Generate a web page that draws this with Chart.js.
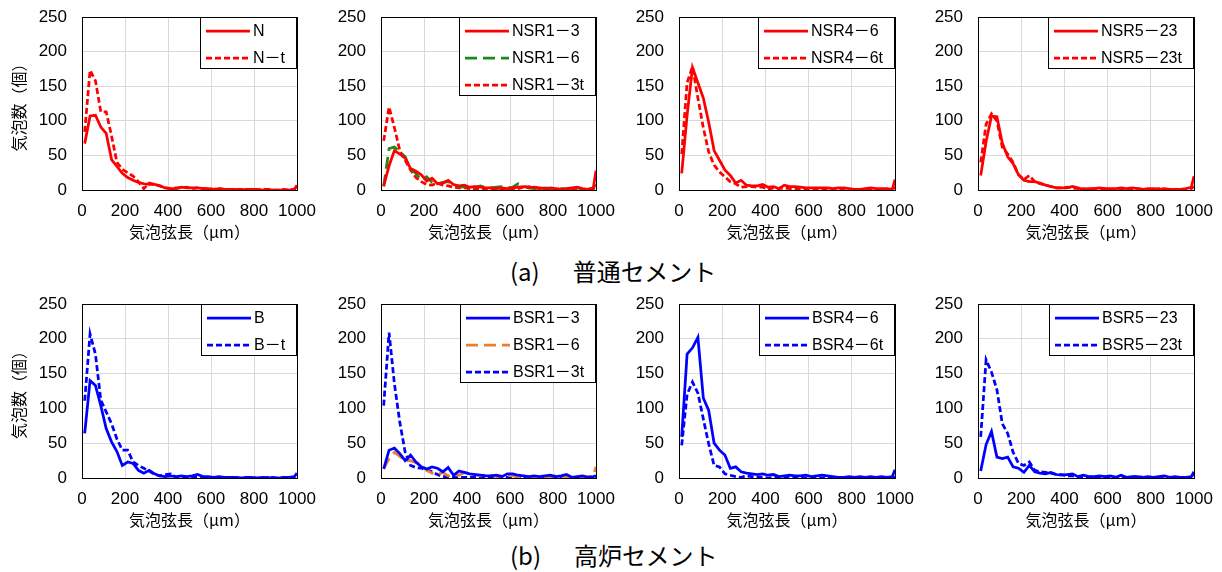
<!DOCTYPE html>
<html>
<head>
<meta charset="utf-8">
<script src="https://cdn.jsdelivr.net/npm/chart.js@4.4.0/dist/chart.umd.min.js"></script>
<style>
  html, body { margin: 0; padding: 0; background: #fff; }
  #wrap { position: relative; width: 1222px; height: 572px; overflow: hidden; background: #fff; }
  .panel { position: absolute; }
  .cap { position: absolute; left: 510px; font: 24px "Noto Sans CJK JP"; line-height: 24px; color: #000; white-space: nowrap; }
</style>
</head>
<body>
<div id="wrap">
  <div class="cap" style="top:259px">(a)<span style="margin-left:33px">普通セメント</span></div>
  <div class="cap" style="top:543px">(b)<span style="margin-left:33px">高炉セメント</span></div>
</div>
<script>
// bin centres (µm), last point = >1000
const xs = [12.5, 37.5, 62.5, 87.5, 112.5, 137.5, 162.5, 187.5, 212.5, 237.5, 262.5, 287.5, 312.5, 337.5,
  362.5, 387.5, 412.5, 437.5, 462.5, 487.5, 512.5, 537.5, 562.5, 587.5, 612.5, 637.5, 662.5, 687.5,
  712.5, 737.5, 762.5, 787.5, 812.5, 837.5, 862.5, 887.5, 912.5, 937.5, 962.5, 987.5, 1000];
const xTicks = [0, 200, 400, 600, 800, 1000];
const yTicks = [0, 50, 100, 150, 200, 250];

// 普通セメント
const N = [67,107,108,91,82,44,34,24,18,14,11,9,8,8,6,3,2,2,4,3,3,3,2,2,1,2,1,1,1,0,1,1,1,0,1,0,0,0,0,1,7];
const Nt = [84,173,158,113,113,78,40,30,25,20,12,2,10,8,6,3,2,3,3,4,2,3,2,2,1,2,1,1,1,1,1,1,0,1,1,0,0,1,0,1,5];
const NSR1_3 = [6,35,57,52,46,31,27,22,13,17,9,10,14,8,6,7,4,5,4,3,3,2,3,2,3,4,5,3,4,3,2,3,2,1,2,3,4,2,1,3,28];
const NSR1_6 = [5,60,62,55,48,30,24,14,19,11,9,11,12,8,5,4,5,4,6,3,3,4,5,3,4,9,6,3,2,2,3,2,1,2,1,2,3,1,1,2,8];
const NSR1_3t = [71,120,90,57,43,29,18,12,8,7,10,7,6,4,3,3,2,2,1,2,1,2,1,1,1,2,4,5,3,2,2,1,1,2,1,1,2,1,1,2,3];
const NSR4_6 = [24,108,177,155,133,98,57,43,29,21,10,14,7,6,6,8,4,5,2,7,5,5,4,3,3,3,3,3,2,3,3,2,1,1,2,3,2,2,2,1,15];
const NSR4_6t = [52,155,178,133,90,55,36,26,19,12,9,4,5,5,4,4,1,3,2,3,2,2,1,2,1,1,2,1,1,1,2,1,1,0,1,1,1,1,1,1,4];
const NSR5_23 = [21,70,107,106,68,48,38,22,14,12,12,10,7,5,3,3,3,5,3,1,2,2,3,2,2,2,3,2,3,2,1,2,2,1,2,1,1,1,2,4,20];
const NSR5_23t = [40,95,110,100,62,52,40,22,15,21,12,9,7,5,3,3,4,3,2,2,1,2,1,2,1,1,2,1,1,2,1,1,1,2,1,1,1,1,1,2,5];

// 高炉セメント
const B = [64,140,133,104,71,52,38,18,23,21,11,7,11,6,3,2,3,2,3,2,3,5,2,2,1,2,1,1,1,0,1,1,0,1,0,1,0,1,1,2,7];
const Bt = [111,207,178,112,95,78,56,40,40,23,18,14,10,5,3,5,6,1,1,1,1,1,0,1,1,0,1,0,1,0,0,1,0,0,1,0,0,0,1,0,1];
const BSR1_3 = [13,40,43,35,25,33,23,16,13,16,14,9,15,4,10,8,6,5,4,3,3,4,2,6,6,4,3,2,3,2,3,4,2,3,5,1,2,3,1,2,3];
const BSR1_6 = [13,28,37,31,25,25,22,20,11,7,5,8,3,5,4,8,6,5,3,5,4,2,3,4,3,2,2,1,2,1,2,2,3,1,2,1,1,2,2,3,16];
const BSR1_3t = [104,209,135,80,37,18,15,14,12,9,5,2,2,1,1,1,1,1,0,1,1,0,1,1,0,1,0,1,1,0,1,1,0,1,1,0,1,1,0,1,2];
const BSR4_6 = [59,178,187,202,115,97,50,40,33,14,16,9,7,6,5,6,4,5,2,3,4,3,3,4,2,3,4,3,2,1,1,2,1,2,1,2,1,2,1,2,12];
const BSR4_6t = [47,120,138,122,85,49,18,16,6,4,2,1,3,2,1,1,0,1,1,0,1,0,1,0,1,1,0,1,0,1,0,1,0,0,1,0,1,0,1,0,2];
const BSR5_23 = [10,48,67,30,28,30,16,14,8,18,9,7,6,8,5,4,5,6,2,4,2,2,3,2,3,1,4,1,2,2,1,2,1,2,3,1,2,1,1,2,9];
const BSR5_23t = [59,170,152,127,78,64,37,21,18,23,11,9,8,7,5,5,3,3,2,2,1,2,1,1,2,1,1,1,1,2,1,1,1,1,1,1,1,1,1,1,4];

const RED = "#ff0000", BLUE = "#0000ff", GREEN = "#1b8a1b", ORANGE = "#ed7d31";
const SHORT = [6, 3], LONG = [12, 6];

const panels = [
  { left: 0,   top: 7,   w: 317, h: 239, yw: 82, yTitle: true, series: [
    { label: "N", data: N, color: RED }, { label: "N－t", data: Nt, color: RED, dash: SHORT }] },
  { left: 331, top: 7,   w: 285, h: 239, yw: 50, series: [
    { label: "NSR1－3", data: NSR1_3, color: RED }, { label: "NSR1－6", data: NSR1_6, color: GREEN, dash: LONG },
    { label: "NSR1－3t", data: NSR1_3t, color: RED, dash: SHORT }] },
  { left: 629, top: 7,   w: 286, h: 239, yw: 50, series: [
    { label: "NSR4－6", data: NSR4_6, color: RED }, { label: "NSR4－6t", data: NSR4_6t, color: RED, dash: SHORT }] },
  { left: 928, top: 7,   w: 286, h: 239, yw: 50, series: [
    { label: "NSR5－23", data: NSR5_23, color: RED }, { label: "NSR5－23t", data: NSR5_23t, color: RED, dash: SHORT }] },
  { left: 0,   top: 294, w: 317, h: 240, yw: 82, yTitle: true, series: [
    { label: "B", data: B, color: BLUE }, { label: "B－t", data: Bt, color: BLUE, dash: SHORT }] },
  { left: 331, top: 294, w: 285, h: 240, yw: 50, series: [
    { label: "BSR1－3", data: BSR1_3, color: BLUE }, { label: "BSR1－6", data: BSR1_6, color: ORANGE, dash: LONG },
    { label: "BSR1－3t", data: BSR1_3t, color: BLUE, dash: SHORT }] },
  { left: 629, top: 294, w: 286, h: 240, yw: 50, series: [
    { label: "BSR4－6", data: BSR4_6, color: BLUE }, { label: "BSR4－6t", data: BSR4_6t, color: BLUE, dash: SHORT }] },
  { left: 928, top: 294, w: 286, h: 240, yw: 50, series: [
    { label: "BSR5－23", data: BSR5_23, color: BLUE }, { label: "BSR5－23t", data: BSR5_23t, color: BLUE, dash: SHORT }] },
];

// boxed legend in the top right corner of the plot area
const boxLegend = {
  id: "boxLegend",
  afterDraw(chart) {
    const ctx = chart.ctx, a = chart.chartArea, ds = chart.data.datasets;
    ctx.save();
    ctx.font = '16px "Liberation Sans", "Noto Sans CJK JP"';
    const tw = Math.max(...ds.map(d => ctx.measureText(d.label).width));
    const w = Math.round(6 + 44 + 3 + tw + 12), h = ds.length * 27 - 2;
    const x0 = Math.round(a.right) - w, y0 = Math.round(a.top);
    ctx.fillStyle = "#fff";
    ctx.fillRect(x0, y0, w, h);
    ctx.strokeStyle = "#000";
    ctx.lineWidth = 1;
    ctx.strokeRect(x0 + 0.5, y0 + 0.5, w - 1, h - 1);
    ds.forEach((d, i) => {
      const cy = y0 + 14 + i * 27;
      ctx.beginPath();
      ctx.setLineDash(d.borderDash || []);
      ctx.strokeStyle = d.borderColor;
      ctx.lineWidth = 2.75;
      ctx.moveTo(x0 + 6, cy);
      ctx.lineTo(x0 + 50, cy);
      ctx.stroke();
      ctx.setLineDash([]);
      ctx.fillStyle = "#000";
      ctx.textBaseline = "middle";
      ctx.fillText(d.label, x0 + 53, cy + 1);
    });
    ctx.restore();
  }
};

const tickFont = { family: '"Liberation Sans", Arial', size: 17 };
const cjkFont = { family: '"Noto Sans CJK JP"', size: 16 };

panels.forEach(p => {
  const div = document.createElement("div");
  div.className = "panel";
  div.style.left = p.left + "px";
  div.style.top = p.top + "px";
  const cv = document.createElement("canvas");
  cv.width = p.w;
  cv.height = p.h;
  div.appendChild(cv);
  document.getElementById("wrap").appendChild(div);

  new Chart(cv, {
    type: "line",
    data: {
      datasets: p.series.map(s => ({
        label: s.label,
        data: xs.map((x, i) => ({ x: x, y: s.data[i] })),
        borderColor: s.color,
        borderDash: s.dash || [],
        borderWidth: 2.75,
        pointRadius: 0,
        tension: 0,
        fill: false
      }))
    },
    options: {
      responsive: false,
      animation: false,
      layout: { padding: { top: 10, right: 20, left: 0, bottom: 0 } },
      plugins: { legend: { display: false }, tooltip: { enabled: false } },
      scales: {
        x: {
          type: "linear", min: 0, max: 1000,
          afterBuildTicks: s => { s.ticks = xTicks.map(v => ({ value: v })); },
          afterFit: s => { s.height = 56; s.paddingLeft = 0; s.paddingRight = 0; },
          ticks: { font: tickFont, color: "#000", padding: 11, maxRotation: 0, autoSkip: false, callback: v => String(v) },
          grid: { drawTicks: false, color: c => (c.tick && c.tick.value === 1000 ? "#000" : "#d9d9d9") },
          border: { color: "#000" },
          title: { display: true, text: "気泡弦長（μm）", font: cjkFont, color: "#000", padding: { top: 0, bottom: 4 } }
        },
        y: {
          min: 0, max: 250,
          afterBuildTicks: s => { s.ticks = yTicks.map(v => ({ value: v })); },
          afterFit: s => { s.width = p.yw; s.paddingTop = 0; s.paddingBottom = 0; },
          ticks: { font: tickFont, color: "#000", padding: 15, callback: v => String(v) },
          grid: { drawTicks: false, color: c => (c.tick && c.tick.value === 250 ? "#000" : "#d9d9d9") },
          border: { color: "#000" },
          title: { display: !!p.yTitle, text: "気泡数（個）", font: cjkFont, color: "#000", padding: { top: 9, bottom: 0 } }
        }
      }
    },
    plugins: [boxLegend]
  });
});
</script>
</body>
</html>
